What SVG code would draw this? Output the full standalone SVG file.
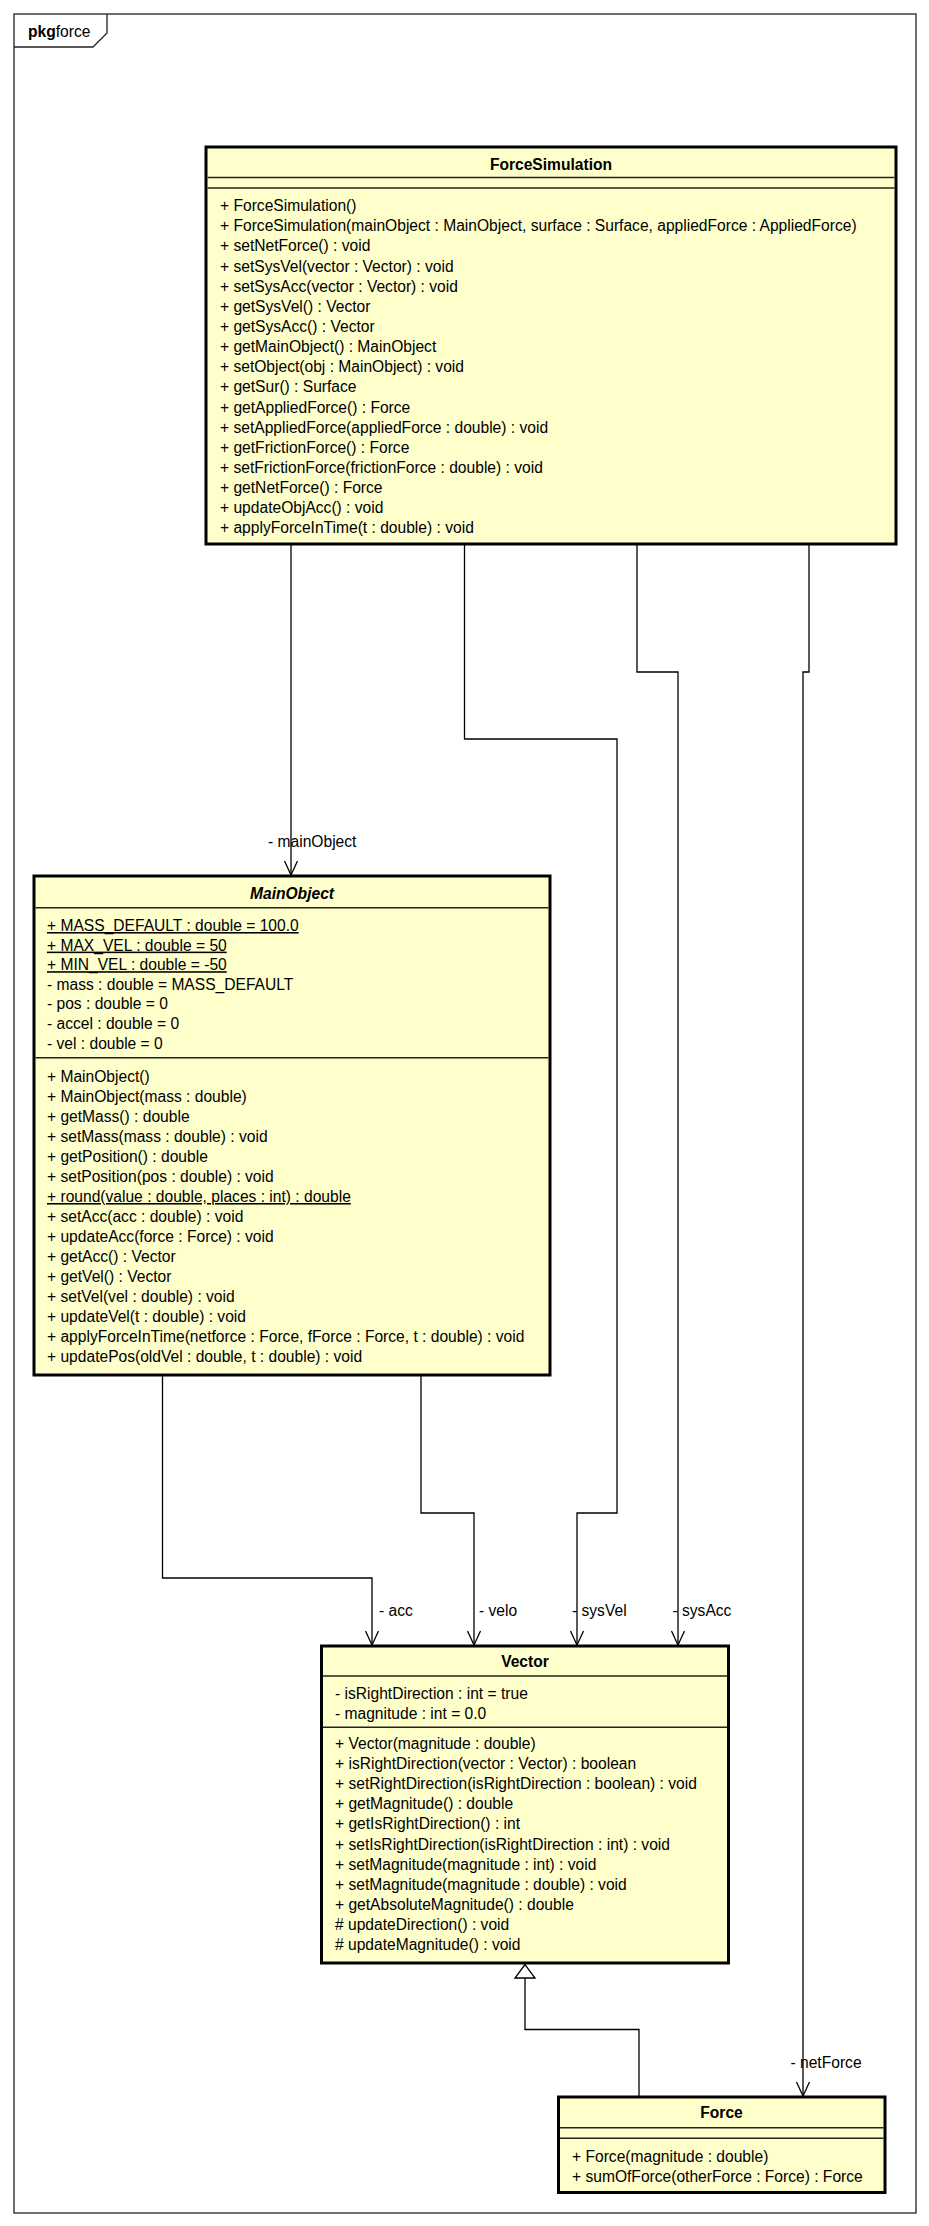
<svg xmlns="http://www.w3.org/2000/svg" width="929" height="2226" viewBox="0 0 929 2226">
<style>
text{font-family:"Liberation Sans",Arial,sans-serif;font-size:15.6px;fill:#000}
.t{font-weight:bold;text-anchor:middle}
.i{font-style:italic}
.u{text-decoration:underline}
.box{fill:#FFFFCC;stroke:#000;stroke-width:3}
.sep{stroke:#222;stroke-width:1.4;fill:none}
.c{fill:none;stroke:#000;stroke-width:1.3}
.frame{fill:none;stroke:#222;stroke-width:1.3}
</style>
<rect width="929" height="2226" fill="#fff"/>
<g id="frame">
<rect class="frame" x="14" y="14" width="902" height="2199"/>
<path class="frame" d="M14,47 L93,47 L107,33 L107,14"/>
<text x="28" y="37"><tspan font-weight="bold">pkg</tspan>force</text>
</g>
<g id="connectors">
<polyline class="c" points="291,545 291,875"/>
<polyline class="c" points="284.5,861 291,875 297.5,861"/>
<text x="268" y="847">- mainObject</text>
<polyline class="c" points="464.5,545 464.5,739 617,739 617,1513 577,1513 577,1645"/>
<polyline class="c" points="570.5,1631 577,1645 583.5,1631"/>
<text x="572" y="1616">- sysVel</text>
<polyline class="c" points="637,545 637,672 678,672 678,1645"/>
<polyline class="c" points="671.5,1631 678,1645 684.5,1631"/>
<text x="672.5" y="1616">- sysAcc</text>
<polyline class="c" points="809,545 809,672 803,672 803,2096"/>
<polyline class="c" points="796.5,2082 803,2096 809.5,2082"/>
<text x="790.5" y="2068">- netForce</text>
<polyline class="c" points="162.5,1376 162.5,1578 372,1578 372,1645"/>
<polyline class="c" points="365.5,1631 372,1645 378.5,1631"/>
<text x="379" y="1616">- acc</text>
<polyline class="c" points="421,1376 421,1513 474,1513 474,1645"/>
<polyline class="c" points="467.5,1631 474,1645 480.5,1631"/>
<text x="479" y="1616">- velo</text>
<polyline class="c" points="639,2096 639,2029.5 525,2029.5 525,1978"/>
<polygon points="525,1964.5 515,1978 535,1978" fill="#fff" stroke="#000" stroke-width="1.3"/>
</g>
<g id="ForceSimulation">
<rect class="box" x="206" y="147" width="690" height="397"/>
<line class="sep" x1="207.5" y1="177.5" x2="894.5" y2="177.5"/>
<line class="sep" x1="207.5" y1="188" x2="894.5" y2="188"/>
<text class="t" x="551" y="170">ForceSimulation</text>
<text x="220" y="211">+ ForceSimulation()</text>
<text x="220" y="231.2">+ ForceSimulation(mainObject : MainObject, surface : Surface, appliedForce : AppliedForce)</text>
<text x="220" y="251.3">+ setNetForce() : void</text>
<text x="220" y="271.5">+ setSysVel(vector : Vector) : void</text>
<text x="220" y="291.6">+ setSysAcc(vector : Vector) : void</text>
<text x="220" y="311.8">+ getSysVel() : Vector</text>
<text x="220" y="331.9">+ getSysAcc() : Vector</text>
<text x="220" y="352.1">+ getMainObject() : MainObject</text>
<text x="220" y="372.2">+ setObject(obj : MainObject) : void</text>
<text x="220" y="392.4">+ getSur() : Surface</text>
<text x="220" y="412.5">+ getAppliedForce() : Force</text>
<text x="220" y="432.7">+ setAppliedForce(appliedForce : double) : void</text>
<text x="220" y="452.8">+ getFrictionForce() : Force</text>
<text x="220" y="473">+ setFrictionForce(frictionForce : double) : void</text>
<text x="220" y="493.1">+ getNetForce() : Force</text>
<text x="220" y="513.3">+ updateObjAcc() : void</text>
<text x="220" y="533.4">+ applyForceInTime(t : double) : void</text>
</g>
<g id="MainObject">
<rect class="box" x="34" y="876" width="516" height="499"/>
<line class="sep" x1="35.5" y1="907.7" x2="548.5" y2="907.7"/>
<line class="sep" x1="35.5" y1="1057.7" x2="548.5" y2="1057.7"/>
<text class="t i" x="292" y="898.5">MainObject</text>
<text class="u" x="47" y="931">+ MASS_DEFAULT : double = 100.0</text>
<text class="u" x="47" y="950.6">+ MAX_VEL : double = 50</text>
<text class="u" x="47" y="970.2">+ MIN_VEL : double = -50</text>
<text x="47" y="989.8">- mass : double = MASS_DEFAULT</text>
<text x="47" y="1009.4">- pos : double = 0</text>
<text x="47" y="1029">- accel : double = 0</text>
<text x="47" y="1048.6">- vel : double = 0</text>
<text x="47" y="1082">+ MainObject()</text>
<text x="47" y="1102">+ MainObject(mass : double)</text>
<text x="47" y="1122">+ getMass() : double</text>
<text x="47" y="1142">+ setMass(mass : double) : void</text>
<text x="47" y="1162">+ getPosition() : double</text>
<text x="47" y="1182">+ setPosition(pos : double) : void</text>
<text class="u" x="47" y="1202">+ round(value : double, places : int) : double</text>
<text x="47" y="1222">+ setAcc(acc : double) : void</text>
<text x="47" y="1242">+ updateAcc(force : Force) : void</text>
<text x="47" y="1262">+ getAcc() : Vector</text>
<text x="47" y="1282">+ getVel() : Vector</text>
<text x="47" y="1302">+ setVel(vel : double) : void</text>
<text x="47" y="1322">+ updateVel(t : double) : void</text>
<text x="47" y="1342">+ applyForceInTime(netforce : Force, fForce : Force, t : double) : void</text>
<text x="47" y="1362">+ updatePos(oldVel : double, t : double) : void</text>
</g>
<g id="Vector">
<rect class="box" x="321.5" y="1646" width="407" height="317"/>
<line class="sep" x1="323" y1="1676" x2="727" y2="1676"/>
<line class="sep" x1="323" y1="1727.3" x2="727" y2="1727.3"/>
<text class="t" x="525" y="1667">Vector</text>
<text x="335" y="1699">- isRightDirection : int = true</text>
<text x="335" y="1718.7">- magnitude : int = 0.0</text>
<text x="335" y="1749">+ Vector(magnitude : double)</text>
<text x="335" y="1769.1">+ isRightDirection(vector : Vector) : boolean</text>
<text x="335" y="1789.2">+ setRightDirection(isRightDirection : boolean) : void</text>
<text x="335" y="1809.3">+ getMagnitude() : double</text>
<text x="335" y="1829.4">+ getIsRightDirection() : int</text>
<text x="335" y="1849.5">+ setIsRightDirection(isRightDirection : int) : void</text>
<text x="335" y="1869.6">+ setMagnitude(magnitude : int) : void</text>
<text x="335" y="1889.7">+ setMagnitude(magnitude : double) : void</text>
<text x="335" y="1909.8">+ getAbsoluteMagnitude() : double</text>
<text x="335" y="1929.9"># updateDirection() : void</text>
<text x="335" y="1950"># updateMagnitude() : void</text>
</g>
<g id="Force">
<rect class="box" x="558.5" y="2097" width="326.5" height="95.5"/>
<line class="sep" x1="560" y1="2127.7" x2="883.5" y2="2127.7"/>
<line class="sep" x1="560" y1="2138.3" x2="883.5" y2="2138.3"/>
<text class="t" x="721.5" y="2118">Force</text>
<text x="572" y="2162">+ Force(magnitude : double)</text>
<text x="572" y="2181.5">+ sumOfForce(otherForce : Force) : Force</text>
</g>
</svg>
